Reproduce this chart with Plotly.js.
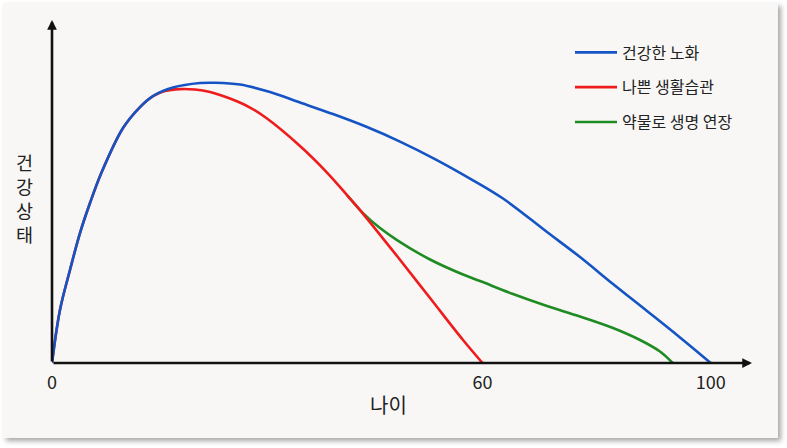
<!DOCTYPE html>
<html>
<head>
<meta charset="utf-8">
<script src="https://cdn.plot.ly/plotly-3.0.1.min.js"></script>
<style>
  html, body { margin:0; padding:0; background:#ffffff; width:787px; height:448px; overflow:hidden; }
  #card { position:absolute; left:3px; top:3px; width:775px; height:435px; background:#f8f7f5;
          box-shadow: 3px 3px 5px rgba(0,0,0,0.35); }
  #chart { position:absolute; left:0; top:0; width:787px; height:448px; }
</style>
</head>
<body>
<div id="card"></div>
<div id="chart"></div>
<script>
// Age (x) and health (y) values
const healthyAge = [0, 1.21, 2.73, 4.25, 5.77, 7.55, 10.78, 13.36, 15.33, 18.37, 22.47, 24.75, 28.54, 33.10, 37.65, 42.66, 47.82, 52.83, 58.14, 63.46, 68.47, 75.15, 80.16, 85.17, 90.33, 95.34, 100];
const healthyVal = [0, 18.91, 33.18, 46.38, 57.08, 68.14, 83.84, 91.33, 95.26, 98.29, 99.89, 100, 99.36, 96.68, 92.94, 88.83, 84.20, 79.02, 72.78, 65.82, 58.69, 46.74, 37.82, 28.18, 18.55, 9.10, 0];

const badAge = [0, 1.21, 2.73, 4.25, 5.77, 7.55, 10.78, 13.36, 15.33, 17.16, 19.43, 21.71, 23.99, 27.02, 30.06, 32.64, 37.65, 41.75, 44.78, 46.76, 52.38, 57.39, 62.40, 65.36];
const badVal = [0, 18.91, 33.18, 46.38, 57.08, 68.14, 83.84, 91.33, 95.26, 97.04, 97.75, 97.57, 96.68, 94.36, 91.15, 87.23, 77.42, 67.96, 59.94, 54.58, 38.17, 23.19, 8.21, 0];

const drugAge = [44.78, 47.21, 49.80, 52.38, 57.39, 62.40, 64.98, 69.99, 75.15, 80.16, 85.17, 89.27, 92.30, 94.23];
const drugVal = [59.94, 53.51, 48.16, 43.88, 36.93, 31.57, 29.25, 24.62, 20.34, 16.59, 12.49, 8.21, 4.10, 0];

const seriesNames = ['건강한 노화', '나쁜 생활습관', '약물로 생명 연장'];
const seriesColors = ['#1454c4', '#ee1c1c', '#1f8c23'];

const tickPositions = [0, 65.36, 100];
const tickLabels = ['0', '60', '100'];
const xTitle = '나이';
const yTitle = '건강상태';

const xs = [healthyAge, badAge, drugAge];
const ys = [healthyVal, badVal, drugVal];

const traces = xs.map((x, i) => ({
  x: x, y: ys[i], type: 'scatter', mode: 'lines', name: seriesNames[i],
  legendgroup: 'g' + i, legendrank: i + 1,
  line: { color: seriesColors[i], width: 2.6, shape: 'spline', smoothing: 1 },
  hoverinfo: 'skip'
}));
// draw order: green below red, blue on top
const ordered = [traces[2], traces[1], traces[0]];

const FONT = '"Noto Sans CJK KR", "Noto Sans", sans-serif';
const TXT = '#222222';

const layout = {
  width: 787, height: 448,
  paper_bgcolor: 'rgba(0,0,0,0)', plot_bgcolor: 'rgba(0,0,0,0)',
  margin: { l: 52, r: 35, t: 20, b: 85 },
  showlegend: true,
  legend: {
    x: 0.74, y: 0.955, xanchor: 'left', yanchor: 'top',
    traceorder: 'grouped', tracegroupgap: 11, itemwidth: 42,
    font: { family: FONT, size: 16, color: TXT },
    bgcolor: 'rgba(0,0,0,0)'
  },
  xaxis: {
    range: [0, 106.27], showgrid: false, zeroline: false, showline: false,
    tickmode: 'array', tickvals: tickPositions, ticktext: tickLabels,
    ticks: '', ticklabelstandoff: 7,
    tickfont: { family: FONT, size: 18, color: TXT },
    fixedrange: true
  },
  yaxis: {
    range: [0, 122.4], showgrid: false, zeroline: false, showline: false,
    showticklabels: false, ticks: '', fixedrange: true
  },
  annotations: [
    { xref: 'paper', yref: 'paper', x: 1, y: 0, ax: -700, ay: 0, axref: 'pixel', ayref: 'pixel',
      showarrow: true, arrowhead: 2, arrowsize: 0.75, arrowwidth: 2.6, arrowcolor: '#111111', text: '' },
    { xref: 'paper', yref: 'paper', x: 0, y: 1, ax: 0, ay: 343, axref: 'pixel', ayref: 'pixel',
      showarrow: true, arrowhead: 2, arrowsize: 0.75, arrowwidth: 2.6, arrowcolor: '#111111', text: '' },
    { xref: 'paper', yref: 'paper', x: (388 - 52) / 700, y: 0, yshift: -41, yanchor: 'middle',
      showarrow: false, text: xTitle, font: { family: FONT, size: 20, color: TXT } },
    { xref: 'paper', yref: 'paper', x: 0, xshift: -28, y: (363 - 198) / 343,
      xanchor: 'center', yanchor: 'middle', showarrow: false,
      text: yTitle.split('').join('<br>'),
      font: { family: FONT, size: 18.5, color: TXT } }
  ]
};

Plotly.newPlot('chart', ordered, layout, { displayModeBar: false, staticPlot: true });
</script>
</body>
</html>
